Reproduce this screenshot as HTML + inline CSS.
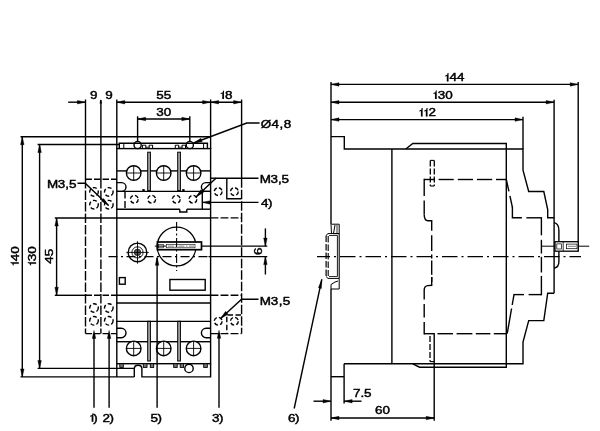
<!DOCTYPE html>
<html><head><meta charset="utf-8"><title>Dimension drawing</title>
<style>
html,body{margin:0;padding:0;background:#fff;}
body{width:600px;height:431px;overflow:hidden;font-family:"Liberation Sans",sans-serif;}
svg{display:block;will-change:transform;opacity:0.999;}
text{font-family:"Liberation Sans",sans-serif;}
</style></head><body>
<svg width="600" height="431" viewBox="0 0 600 431">
<rect x="0" y="0" width="600" height="431" fill="#fff"/>
<line x1="68.2" y1="102.2" x2="85.4" y2="102.2" stroke="#000" stroke-width="1.4" stroke-linecap="butt"/>
<polygon points="85.40,102.20 77.40,103.95 77.40,100.45" fill="#000" stroke="#000" stroke-width="0.4"/>
<line x1="116.8" y1="102.2" x2="241.6" y2="102.2" stroke="#000" stroke-width="1.4" stroke-linecap="butt"/>
<polygon points="116.80,102.20 124.80,100.45 124.80,103.95" fill="#000" stroke="#000" stroke-width="0.4"/>
<polygon points="210.60,102.20 202.60,103.95 202.60,100.45" fill="#000" stroke="#000" stroke-width="0.4"/>
<polygon points="210.60,102.20 218.60,100.45 218.60,103.95" fill="#000" stroke="#000" stroke-width="0.4"/>
<polygon points="241.60,102.20 233.60,103.95 233.60,100.45" fill="#000" stroke="#000" stroke-width="0.4"/>
<polygon points="100.80,99.80 101.80,103.30 99.80,103.30" fill="#000" stroke="#000" stroke-width="0.4"/>
<line x1="85.5" y1="99.5" x2="85.5" y2="179" stroke="#000" stroke-width="1.4" stroke-linecap="butt"/>
<line x1="100.9" y1="100" x2="100.9" y2="179" stroke="#000" stroke-width="1.4" stroke-linecap="butt"/>
<line x1="116.8" y1="99.5" x2="116.8" y2="149" stroke="#000" stroke-width="1.4" stroke-linecap="butt"/>
<line x1="210.6" y1="99.5" x2="210.6" y2="149" stroke="#000" stroke-width="1.4" stroke-linecap="butt"/>
<line x1="241.6" y1="99.5" x2="241.6" y2="178.2" stroke="#000" stroke-width="1.4" stroke-linecap="butt"/>
<line x1="137.6" y1="119" x2="189.8" y2="119" stroke="#000" stroke-width="1.4" stroke-linecap="butt"/>
<polygon points="137.60,119.00 145.60,117.25 145.60,120.75" fill="#000" stroke="#000" stroke-width="0.4"/>
<polygon points="189.80,119.00 181.80,120.75 181.80,117.25" fill="#000" stroke="#000" stroke-width="0.4"/>
<line x1="137.6" y1="116.3" x2="137.6" y2="141.4" stroke="#000" stroke-width="1.4" stroke-linecap="butt"/>
<line x1="189.8" y1="116.3" x2="189.8" y2="141.4" stroke="#000" stroke-width="1.4" stroke-linecap="butt"/>
<g transform="translate(93.8,99)" fill="#000" stroke="#000" stroke-width="0.45" font-size="11.5">
<text transform="translate(0.00,0) scale(1.17,1)" text-anchor="middle">9</text>
</g>
<g transform="translate(109,99)" fill="#000" stroke="#000" stroke-width="0.45" font-size="11.5">
<text transform="translate(0.00,0) scale(1.17,1)" text-anchor="middle">9</text>
</g>
<g transform="translate(163.8,99)" fill="#000" stroke="#000" stroke-width="0.45" font-size="11.5">
<text transform="translate(-3.75,0) scale(1.17,1)" text-anchor="middle">5</text>
<text transform="translate(3.75,0) scale(1.17,1)" text-anchor="middle">5</text>
</g>
<g transform="translate(163.8,116)" fill="#000" stroke="#000" stroke-width="0.45" font-size="11.5">
<text transform="translate(-3.75,0) scale(1.17,1)" text-anchor="middle">3</text>
<text transform="translate(3.75,0) scale(1.17,1)" text-anchor="middle">0</text>
</g>
<g transform="translate(226.2,99)" fill="#000" stroke="#000" stroke-width="0.45" font-size="11.5">
<path d="M-5.40,-5.9 L-3.50,-6.6 L-3.10,-8.3 L-2.25,-8.3 L-2.25,0 L-3.90,0 L-3.90,-5.4 L-5.40,-4.9 Z" stroke-width="0.1"/>
<text transform="translate(2.45,0) scale(1.17,1)" text-anchor="middle">8</text>
</g>
<line x1="22.3" y1="136.7" x2="22.3" y2="376.9" stroke="#000" stroke-width="1.4" stroke-linecap="butt"/>
<polygon points="22.30,136.70 24.05,144.70 20.55,144.70" fill="#000" stroke="#000" stroke-width="0.4"/>
<polygon points="22.30,376.90 20.55,368.90 24.05,368.90" fill="#000" stroke="#000" stroke-width="0.4"/>
<line x1="39.6" y1="144.5" x2="39.6" y2="368.4" stroke="#000" stroke-width="1.4" stroke-linecap="butt"/>
<polygon points="39.60,144.50 41.35,152.50 37.85,152.50" fill="#000" stroke="#000" stroke-width="0.4"/>
<polygon points="39.60,368.40 37.85,360.40 41.35,360.40" fill="#000" stroke="#000" stroke-width="0.4"/>
<line x1="56.6" y1="218" x2="56.6" y2="295.3" stroke="#000" stroke-width="1.4" stroke-linecap="butt"/>
<polygon points="56.60,218.00 58.35,226.00 54.85,226.00" fill="#000" stroke="#000" stroke-width="0.4"/>
<polygon points="56.60,295.30 54.85,287.30 58.35,287.30" fill="#000" stroke="#000" stroke-width="0.4"/>
<line x1="20.5" y1="136.7" x2="210.6" y2="136.7" stroke="#000" stroke-width="1.4" stroke-linecap="butt"/>
<line x1="37.6" y1="144.5" x2="119.3" y2="144.5" stroke="#000" stroke-width="1.4" stroke-linecap="butt"/>
<line x1="54.8" y1="218" x2="116.8" y2="218" stroke="#000" stroke-width="1.4" stroke-linecap="butt"/>
<line x1="54.8" y1="295.3" x2="85.5" y2="295.3" stroke="#000" stroke-width="1.4" stroke-linecap="butt"/>
<line x1="37.6" y1="368.4" x2="134.3" y2="368.4" stroke="#000" stroke-width="1.4" stroke-linecap="butt"/>
<line x1="20.5" y1="376.9" x2="134.3" y2="376.9" stroke="#000" stroke-width="1.4" stroke-linecap="butt"/>
<g transform="translate(18.8,256.2) rotate(-90)" fill="#000" stroke="#000" stroke-width="0.45" font-size="11.5">
<path d="M-9.15,-5.9 L-7.25,-6.6 L-6.85,-8.3 L-6.00,-8.3 L-6.00,0 L-7.65,0 L-7.65,-5.4 L-9.15,-4.9 Z" stroke-width="0.1"/>
<text transform="translate(-1.30,0) scale(1.17,1)" text-anchor="middle">4</text>
<text transform="translate(6.20,0) scale(1.17,1)" text-anchor="middle">0</text>
</g>
<g transform="translate(36.1,256.2) rotate(-90)" fill="#000" stroke="#000" stroke-width="0.45" font-size="11.5">
<path d="M-9.15,-5.9 L-7.25,-6.6 L-6.85,-8.3 L-6.00,-8.3 L-6.00,0 L-7.65,0 L-7.65,-5.4 L-9.15,-4.9 Z" stroke-width="0.1"/>
<text transform="translate(-1.30,0) scale(1.17,1)" text-anchor="middle">3</text>
<text transform="translate(6.20,0) scale(1.17,1)" text-anchor="middle">0</text>
</g>
<g transform="translate(53.1,256.3) rotate(-90)" fill="#000" stroke="#000" stroke-width="0.45" font-size="11.5">
<text transform="translate(-3.75,0) scale(1.17,1)" text-anchor="middle">4</text>
<text transform="translate(3.75,0) scale(1.17,1)" text-anchor="middle">5</text>
</g>
<polyline points="119.3,148.6 119.3,143.2 207.4,143.2 207.4,148.6" fill="none" stroke="#000" stroke-width="1.4" stroke-linejoin="miter"/>
<line x1="123.8" y1="143.2" x2="123.8" y2="148.6" stroke="#000" stroke-width="1.0" stroke-linecap="butt"/>
<line x1="203.6" y1="143.2" x2="203.6" y2="148.6" stroke="#000" stroke-width="1.0" stroke-linecap="butt"/>
<line x1="142.4" y1="145" x2="142.4" y2="148.6" stroke="#000" stroke-width="1.0" stroke-linecap="butt"/>
<line x1="145.8" y1="145" x2="145.8" y2="148.6" stroke="#000" stroke-width="1.0" stroke-linecap="butt"/>
<line x1="149.20000000000002" y1="145" x2="149.20000000000002" y2="148.6" stroke="#000" stroke-width="1.0" stroke-linecap="butt"/>
<line x1="152.6" y1="145" x2="152.6" y2="148.6" stroke="#000" stroke-width="1.0" stroke-linecap="butt"/>
<line x1="142.4" y1="145.2" x2="145.8" y2="145.2" stroke="#000" stroke-width="0.9" stroke-linecap="butt"/>
<line x1="149.20000000000002" y1="145.2" x2="152.6" y2="145.2" stroke="#000" stroke-width="0.9" stroke-linecap="butt"/>
<line x1="145.8" y1="147.2" x2="149.20000000000002" y2="147.2" stroke="#000" stroke-width="0.8" stroke-linecap="butt"/>
<line x1="175.3" y1="145" x2="175.3" y2="148.6" stroke="#000" stroke-width="1.0" stroke-linecap="butt"/>
<line x1="178.70000000000002" y1="145" x2="178.70000000000002" y2="148.6" stroke="#000" stroke-width="1.0" stroke-linecap="butt"/>
<line x1="182.10000000000002" y1="145" x2="182.10000000000002" y2="148.6" stroke="#000" stroke-width="1.0" stroke-linecap="butt"/>
<line x1="185.5" y1="145" x2="185.5" y2="148.6" stroke="#000" stroke-width="1.0" stroke-linecap="butt"/>
<line x1="175.3" y1="145.2" x2="178.70000000000002" y2="145.2" stroke="#000" stroke-width="0.9" stroke-linecap="butt"/>
<line x1="182.10000000000002" y1="145.2" x2="185.5" y2="145.2" stroke="#000" stroke-width="0.9" stroke-linecap="butt"/>
<line x1="178.70000000000002" y1="147.2" x2="182.10000000000002" y2="147.2" stroke="#000" stroke-width="0.8" stroke-linecap="butt"/>
<circle cx="137.6" cy="145" r="3.6" fill="none" stroke="#000" stroke-width="1.4"/>
<circle cx="189.8" cy="145" r="3.6" fill="none" stroke="#000" stroke-width="1.4"/>
<rect x="116.8" y="148.6" width="93.8" height="215.1" fill="none" stroke="#000" stroke-width="1.4"/>
<line x1="116.8" y1="170.9" x2="126.49999999999999" y2="170.9" stroke="#000" stroke-width="1.4" stroke-linecap="butt"/>
<line x1="140.89999999999998" y1="170.9" x2="156.5" y2="170.9" stroke="#000" stroke-width="1.4" stroke-linecap="butt"/>
<line x1="170.89999999999998" y1="170.9" x2="186.4" y2="170.9" stroke="#000" stroke-width="1.4" stroke-linecap="butt"/>
<line x1="200.79999999999998" y1="170.9" x2="210.6" y2="170.9" stroke="#000" stroke-width="1.4" stroke-linecap="butt"/>
<circle cx="133.7" cy="173" r="7.3" fill="none" stroke="#000" stroke-width="1.4"/>
<line x1="126.39999999999999" y1="173" x2="141.0" y2="173" stroke="#000" stroke-width="0.9" stroke-linecap="butt"/>
<line x1="133.7" y1="165.7" x2="133.7" y2="180.3" stroke="#000" stroke-width="0.9" stroke-linecap="butt"/>
<circle cx="163.7" cy="173" r="7.3" fill="none" stroke="#000" stroke-width="1.4"/>
<line x1="156.39999999999998" y1="173" x2="171.0" y2="173" stroke="#000" stroke-width="0.9" stroke-linecap="butt"/>
<line x1="163.7" y1="165.7" x2="163.7" y2="180.3" stroke="#000" stroke-width="0.9" stroke-linecap="butt"/>
<circle cx="193.6" cy="173" r="7.3" fill="none" stroke="#000" stroke-width="1.4"/>
<line x1="186.29999999999998" y1="173" x2="200.9" y2="173" stroke="#000" stroke-width="0.9" stroke-linecap="butt"/>
<line x1="193.6" y1="165.7" x2="193.6" y2="180.3" stroke="#000" stroke-width="0.9" stroke-linecap="butt"/>
<line x1="116.8" y1="341.7" x2="131.7" y2="341.7" stroke="#000" stroke-width="1.4" stroke-linecap="butt"/>
<line x1="135.7" y1="341.7" x2="161.7" y2="341.7" stroke="#000" stroke-width="1.4" stroke-linecap="butt"/>
<line x1="165.7" y1="341.7" x2="191.6" y2="341.7" stroke="#000" stroke-width="1.4" stroke-linecap="butt"/>
<line x1="195.6" y1="341.7" x2="210.6" y2="341.7" stroke="#000" stroke-width="1.4" stroke-linecap="butt"/>
<circle cx="133.7" cy="348.4" r="7.3" fill="none" stroke="#000" stroke-width="1.4"/>
<line x1="126.39999999999999" y1="348.4" x2="141.0" y2="348.4" stroke="#000" stroke-width="0.9" stroke-linecap="butt"/>
<line x1="133.7" y1="341.1" x2="133.7" y2="355.7" stroke="#000" stroke-width="0.9" stroke-linecap="butt"/>
<circle cx="163.7" cy="348.4" r="7.3" fill="none" stroke="#000" stroke-width="1.4"/>
<line x1="156.39999999999998" y1="348.4" x2="171.0" y2="348.4" stroke="#000" stroke-width="0.9" stroke-linecap="butt"/>
<line x1="163.7" y1="341.1" x2="163.7" y2="355.7" stroke="#000" stroke-width="0.9" stroke-linecap="butt"/>
<circle cx="193.6" cy="348.4" r="7.3" fill="none" stroke="#000" stroke-width="1.4"/>
<line x1="186.29999999999998" y1="348.4" x2="200.9" y2="348.4" stroke="#000" stroke-width="0.9" stroke-linecap="butt"/>
<line x1="193.6" y1="341.1" x2="193.6" y2="355.7" stroke="#000" stroke-width="0.9" stroke-linecap="butt"/>
<rect x="147.7" y="152.2" width="2.700000000000017" height="38.400000000000006" fill="#aaa" stroke="#000" stroke-width="1.0"/>
<rect x="147.7" y="321.3" width="2.700000000000017" height="39.69999999999999" fill="#aaa" stroke="#000" stroke-width="1.0"/>
<rect x="177.7" y="152.2" width="2.700000000000017" height="38.400000000000006" fill="#aaa" stroke="#000" stroke-width="1.0"/>
<rect x="177.7" y="321.3" width="2.700000000000017" height="39.69999999999999" fill="#aaa" stroke="#000" stroke-width="1.0"/>
<line x1="116.8" y1="191.4" x2="210.6" y2="191.4" stroke="#000" stroke-width="1.4" stroke-linecap="butt"/>
<line x1="116.8" y1="209.2" x2="179.8" y2="209.2" stroke="#000" stroke-width="1.4" stroke-linecap="butt"/>
<polyline points="179.8,209.2 179.8,212 186.8,212 186.8,209.2" fill="none" stroke="#000" stroke-width="1.4" stroke-linejoin="miter"/>
<line x1="186.8" y1="209.2" x2="210.6" y2="209.2" stroke="#000" stroke-width="1.4" stroke-linecap="butt"/>
<line x1="116.8" y1="218" x2="210.6" y2="218" stroke="#000" stroke-width="1.4" stroke-linecap="butt"/>
<line x1="116.8" y1="295.3" x2="210.6" y2="295.3" stroke="#000" stroke-width="1.4" stroke-linecap="butt"/>
<line x1="116.8" y1="303" x2="210.6" y2="303" stroke="#000" stroke-width="1.4" stroke-linecap="butt"/>
<line x1="116.8" y1="321.4" x2="210.6" y2="321.4" stroke="#000" stroke-width="1.4" stroke-linecap="butt"/>
<line x1="125" y1="191.4" x2="125" y2="209.2" stroke="#000" stroke-width="1.4" stroke-dasharray="7 2.5" stroke-linecap="butt"/>
<line x1="202.3" y1="191.4" x2="202.3" y2="209.2" stroke="#000" stroke-width="1.4" stroke-linecap="butt"/>
<circle cx="134.3" cy="199.2" r="3.9" fill="none" stroke="#000" stroke-width="1.4" stroke-dasharray="4 2.2"/>
<circle cx="151.7" cy="199.2" r="3.9" fill="none" stroke="#000" stroke-width="1.4" stroke-dasharray="4 2.2"/>
<circle cx="176.3" cy="199.2" r="3.9" fill="none" stroke="#000" stroke-width="1.4" stroke-dasharray="4 2.2"/>
<circle cx="192.9" cy="199.2" r="3.9" fill="none" stroke="#000" stroke-width="1.4" stroke-dasharray="4 2.2"/>
<rect x="142.6" y="189.2" width="2.0" height="2.0" fill="#000" stroke="#000" stroke-width="0.3"/>
<rect x="182.4" y="189.2" width="2.0" height="2.0" fill="#000" stroke="#000" stroke-width="0.3"/>
<path d="M116.8,182.6 L121.6,182.6 A4.400000000000006,4.400000000000006 0 0 1 121.6,191.4 L116.8,191.4" fill="none" stroke="#000" stroke-width="1.4"/>
<path d="M210.6,182.6 L205.8,182.6 A4.400000000000006,4.400000000000006 0 0 0 205.8,191.4 L210.6,191.4" fill="none" stroke="#000" stroke-width="1.4"/>
<path d="M116.8,328.3 L121.30000000000001,328.3 A4.699999999999989,4.699999999999989 0 0 1 121.30000000000001,337.7 L116.8,337.7" fill="none" stroke="#000" stroke-width="1.4"/>
<path d="M210.6,328.3 L206.1,328.3 A4.699999999999989,4.699999999999989 0 0 0 206.1,337.7 L210.6,337.7" fill="none" stroke="#000" stroke-width="1.4"/>
<circle cx="176.6" cy="246.5" r="19.4" fill="none" stroke="#000" stroke-width="1.3"/>
<rect x="157.4" y="242" width="44.099999999999994" height="7.699999999999989" fill="#fff" stroke="#000" stroke-width="1.7"/>
<rect x="158.5" y="244.5" width="4.800000000000011" height="3.3000000000000114" fill="none" stroke="#000" stroke-width="0.6"/>
<rect x="166.3" y="244.5" width="28.69999999999999" height="3.3000000000000114" fill="none" stroke="#000" stroke-width="0.6"/>
<line x1="154.8" y1="246.1" x2="166" y2="246.1" stroke="#000" stroke-width="1.0" stroke-linecap="butt"/>
<line x1="168" y1="246.15" x2="194" y2="246.15" stroke="#000" stroke-width="0.5" stroke-dasharray="6 1.5 1.5 1.5" stroke-linecap="butt"/>
<line x1="201.6" y1="246.1" x2="267.3" y2="246.1" stroke="#000" stroke-width="1.4" stroke-linecap="butt"/>
<line x1="108.5" y1="256.6" x2="208.5" y2="256.6" stroke="#000" stroke-width="1.1" stroke-dasharray="9 3.5 2 3.5" stroke-linecap="butt"/>
<line x1="176.6" y1="222" x2="176.6" y2="271" stroke="#000" stroke-width="1.1" stroke-dasharray="9 2.5 2 2.5" stroke-linecap="butt"/>
<circle cx="137.5" cy="252.4" r="9.3" fill="none" stroke="#000" stroke-width="1.4"/>
<circle cx="137.5" cy="252.4" r="5.6" fill="none" stroke="#000" stroke-width="0.9"/>
<circle cx="137.5" cy="252.4" r="3.3" fill="#555" stroke="#000" stroke-width="0.6"/>
<line x1="126.3" y1="252.4" x2="148.8" y2="252.4" stroke="#000" stroke-width="0.9" stroke-linecap="butt"/>
<line x1="137.5" y1="241.2" x2="137.5" y2="263.7" stroke="#000" stroke-width="0.9" stroke-linecap="butt"/>
<rect x="119.4" y="277.6" width="5.799999999999997" height="6.599999999999966" fill="none" stroke="#000" stroke-width="1.4"/>
<rect x="169.9" y="279.5" width="35.29999999999998" height="10.699999999999989" fill="none" stroke="#000" stroke-width="1.4"/>
<line x1="208.5" y1="256.6" x2="267.3" y2="256.6" stroke="#000" stroke-width="1.4" stroke-linecap="butt"/>
<line x1="265.4" y1="228.4" x2="265.4" y2="246.1" stroke="#000" stroke-width="1.4" stroke-linecap="butt"/>
<polygon points="265.40,246.10 263.65,238.10 267.15,238.10" fill="#000" stroke="#000" stroke-width="0.4"/>
<line x1="265.4" y1="256.6" x2="265.4" y2="274.5" stroke="#000" stroke-width="1.4" stroke-linecap="butt"/>
<polygon points="265.40,256.60 267.15,264.60 263.65,264.60" fill="#000" stroke="#000" stroke-width="0.4"/>
<g transform="translate(262.3,251.3) rotate(-90)" fill="#000" stroke="#000" stroke-width="0.45" font-size="11.5">
<text transform="translate(0.00,0) scale(1.17,1)" text-anchor="middle">6</text>
</g>
<line x1="85.5" y1="179" x2="85.5" y2="333.6" stroke="#000" stroke-width="1.4" stroke-dasharray="9.5 2" stroke-linecap="butt"/>
<line x1="100.9" y1="179" x2="100.9" y2="333.6" stroke="#000" stroke-width="1.4" stroke-dasharray="9.5 2" stroke-linecap="butt"/>
<line x1="85.5" y1="179.3" x2="116.8" y2="179.3" stroke="#000" stroke-width="1.4" stroke-dasharray="6.5 2" stroke-linecap="butt"/>
<line x1="85.5" y1="295.3" x2="116.8" y2="295.3" stroke="#000" stroke-width="1.4" stroke-dasharray="6.5 2" stroke-linecap="butt"/>
<line x1="85.5" y1="333.6" x2="116.8" y2="333.6" stroke="#000" stroke-width="1.4" stroke-dasharray="6.5 2" stroke-linecap="butt"/>
<circle cx="94" cy="191.9" r="4.3" fill="none" stroke="#000" stroke-width="1.4" stroke-dasharray="4 2.2"/>
<circle cx="94" cy="204.7" r="4.3" fill="none" stroke="#000" stroke-width="1.4" stroke-dasharray="4 2.2"/>
<circle cx="94" cy="308" r="4.3" fill="none" stroke="#000" stroke-width="1.4" stroke-dasharray="4 2.2"/>
<circle cx="94" cy="320.8" r="4.3" fill="none" stroke="#000" stroke-width="1.4" stroke-dasharray="4 2.2"/>
<circle cx="108.8" cy="191.9" r="4.3" fill="none" stroke="#000" stroke-width="1.4" stroke-dasharray="4 2.2"/>
<circle cx="108.8" cy="204.7" r="4.3" fill="none" stroke="#000" stroke-width="1.4" stroke-dasharray="4 2.2"/>
<circle cx="108.8" cy="308" r="4.3" fill="none" stroke="#000" stroke-width="1.4" stroke-dasharray="4 2.2"/>
<circle cx="108.8" cy="320.8" r="4.3" fill="none" stroke="#000" stroke-width="1.4" stroke-dasharray="4 2.2"/>
<g transform="translate(48,188)" fill="#000" stroke="#000" stroke-width="0.45" font-size="11.5">
<text transform="translate(4.65,0) scale(1.17,1)" text-anchor="middle">M</text>
<text transform="translate(13.55,0) scale(1.17,1)" text-anchor="middle">3</text>
<text transform="translate(19.15,0) scale(1.17,1)" text-anchor="middle">,</text>
<text transform="translate(24.75,0) scale(1.17,1)" text-anchor="middle">5</text>
</g>
<polyline points="77.5,183.3 85.2,183.3 108.6,205.6" fill="none" stroke="#000" stroke-width="1.4" stroke-linejoin="miter"/>
<polygon points="108.60,205.60 101.27,200.97 103.62,198.51" fill="#000" stroke="#000" stroke-width="0.4"/>
<line x1="241.6" y1="178.2" x2="241.6" y2="333.6" stroke="#000" stroke-width="1.4" stroke-dasharray="9.5 2" stroke-linecap="butt"/>
<line x1="210.6" y1="217.9" x2="241.6" y2="217.9" stroke="#000" stroke-width="1.4" stroke-dasharray="7.8 2.2" stroke-linecap="butt"/>
<line x1="210.6" y1="295.2" x2="241.6" y2="295.2" stroke="#000" stroke-width="1.4" stroke-dasharray="7.8 2.2" stroke-linecap="butt"/>
<line x1="210.6" y1="333.6" x2="241.6" y2="333.6" stroke="#000" stroke-width="1.4" stroke-dasharray="7.8 2.2" stroke-linecap="butt"/>
<line x1="210.6" y1="178.2" x2="215.9" y2="178.2" stroke="#000" stroke-width="1.4" stroke-dasharray="5.5 2.5" stroke-linecap="butt"/>
<polyline points="226.8,178.2 226.8,198.8 241,198.8" fill="none" stroke="#000" stroke-width="1.4" stroke-linejoin="miter"/>
<circle cx="218.2" cy="191.6" r="3.9" fill="none" stroke="#000" stroke-width="1.4" stroke-dasharray="4 2.2"/>
<circle cx="218.2" cy="321.2" r="3.9" fill="none" stroke="#000" stroke-width="1.4" stroke-dasharray="4 2.2"/>
<circle cx="234.4" cy="191.6" r="3.9" fill="none" stroke="#000" stroke-width="1.4" stroke-dasharray="4 2.2"/>
<circle cx="234.4" cy="321.2" r="3.9" fill="none" stroke="#000" stroke-width="1.4" stroke-dasharray="4 2.2"/>
<polyline points="241,315 226.8,315 226.8,333.6" fill="none" stroke="#000" stroke-width="1.4" stroke-dasharray="5.5 2.5" stroke-linejoin="miter"/>
<polyline points="258.5,178.2 215.9,178.2 196,197" fill="none" stroke="#000" stroke-width="1.4" stroke-linejoin="miter"/>
<polygon points="196.00,197.00 200.87,189.78 203.48,192.54" fill="#000" stroke="#000" stroke-width="0.4"/>
<g transform="translate(260.6,182.6)" fill="#000" stroke="#000" stroke-width="0.45" font-size="11.5">
<text transform="translate(4.65,0) scale(1.17,1)" text-anchor="middle">M</text>
<text transform="translate(13.55,0) scale(1.17,1)" text-anchor="middle">3</text>
<text transform="translate(19.15,0) scale(1.17,1)" text-anchor="middle">,</text>
<text transform="translate(24.75,0) scale(1.17,1)" text-anchor="middle">5</text>
</g>
<line x1="258.5" y1="202.4" x2="202.4" y2="202.4" stroke="#000" stroke-width="1.4" stroke-linecap="butt"/>
<polygon points="202.40,202.40 210.40,200.65 210.40,204.15" fill="#000" stroke="#000" stroke-width="0.4"/>
<g transform="translate(262,207)" fill="#000" stroke="#000" stroke-width="0.45" font-size="11.5">
<text transform="translate(2.80,0) scale(1.17,1)" text-anchor="middle">4</text>
<text transform="translate(8.30,0) scale(1.17,1)" text-anchor="middle">)</text>
</g>
<polyline points="258.5,299.3 241.6,299.3 220.6,318.5" fill="none" stroke="#000" stroke-width="1.4" stroke-linejoin="miter"/>
<polygon points="220.60,318.50 225.60,311.37 228.16,314.17" fill="#000" stroke="#000" stroke-width="0.4"/>
<g transform="translate(260.6,304.6)" fill="#000" stroke="#000" stroke-width="0.45" font-size="11.5">
<text transform="translate(4.80,0) scale(1.17,1)" text-anchor="middle">M</text>
<text transform="translate(14.00,0) scale(1.17,1)" text-anchor="middle">3</text>
<text transform="translate(19.90,0) scale(1.17,1)" text-anchor="middle">,</text>
<text transform="translate(25.80,0) scale(1.17,1)" text-anchor="middle">5</text>
</g>
<polyline points="259.6,123 246.8,123 193.6,143" fill="none" stroke="#000" stroke-width="1.4" stroke-linejoin="miter"/>
<polygon points="193.60,143.00 200.92,138.32 202.19,141.69" fill="#000" stroke="#000" stroke-width="0.4"/>
<g transform="translate(261,127.6)" fill="#000" stroke="#000" stroke-width="0.45" font-size="11.5">
<text transform="translate(4.90,0) scale(1.17,1)" text-anchor="middle">&#216;</text>
<text transform="translate(14.30,0) scale(1.17,1)" text-anchor="middle">4</text>
<text transform="translate(20.40,0) scale(1.17,1)" text-anchor="middle">,</text>
<text transform="translate(26.50,0) scale(1.17,1)" text-anchor="middle">8</text>
</g>
<line x1="116.8" y1="363.7" x2="116.8" y2="376.9" stroke="#000" stroke-width="1.4" stroke-linecap="butt"/>
<path d="M134.3,376.9 L134.3,369 Q134.3,365.3 138,365.3 Q141.9,365.3 141.9,369 L141.9,376.9 L210.6,376.9 L210.6,363.7" fill="none" stroke="#000" stroke-width="1.4"/>
<rect x="119.8" y="363.7" width="3.5" height="3.6999999999999886" fill="#777" stroke="#000" stroke-width="0.9"/>
<rect x="143.3" y="363.7" width="3.6999999999999886" height="3.6999999999999886" fill="#777" stroke="#000" stroke-width="0.9"/>
<rect x="150.3" y="363.7" width="3.3999999999999773" height="3.6999999999999886" fill="#777" stroke="#000" stroke-width="0.9"/>
<rect x="173.7" y="363.7" width="3.5" height="3.6999999999999886" fill="#777" stroke="#000" stroke-width="0.9"/>
<rect x="180.2" y="363.7" width="3.4000000000000057" height="3.6999999999999886" fill="#777" stroke="#000" stroke-width="0.9"/>
<rect x="203.7" y="363.7" width="3.6000000000000227" height="3.6999999999999886" fill="#777" stroke="#000" stroke-width="0.9"/>
<circle cx="189" cy="368.4" r="4.2" fill="#fff" stroke="#000" stroke-width="1.4"/>
<line x1="94" y1="333.6" x2="94" y2="407.8" stroke="#000" stroke-width="1.4" stroke-linecap="butt"/>
<polygon points="94.00,330.50 95.75,338.50 92.25,338.50" fill="#000" stroke="#000" stroke-width="0.4"/>
<line x1="109.1" y1="333.6" x2="109.1" y2="407.8" stroke="#000" stroke-width="1.4" stroke-linecap="butt"/>
<polygon points="109.10,330.50 110.85,338.50 107.35,338.50" fill="#000" stroke="#000" stroke-width="0.4"/>
<line x1="157.1" y1="258" x2="157.1" y2="407.8" stroke="#000" stroke-width="1.4" stroke-linecap="butt"/>
<polygon points="157.10,256.80 158.85,265.30 155.35,265.30" fill="#000" stroke="#000" stroke-width="0.4"/>
<line x1="219" y1="333" x2="219" y2="407.8" stroke="#000" stroke-width="1.4" stroke-linecap="butt"/>
<polygon points="219.00,330.30 220.75,338.30 217.25,338.30" fill="#000" stroke="#000" stroke-width="0.4"/>
<g transform="translate(93.6,421.7)" fill="#000" stroke="#000" stroke-width="0.45" font-size="11.5">
<path d="M-3.40,-5.9 L-1.50,-6.6 L-1.10,-8.3 L-0.25,-8.3 L-0.25,0 L-1.90,0 L-1.90,-5.4 L-3.40,-4.9 Z" stroke-width="0.1"/>
<text transform="translate(2.00,0) scale(1.17,1)" text-anchor="middle">)</text>
</g>
<g transform="translate(108.4,421.7)" fill="#000" stroke="#000" stroke-width="0.45" font-size="11.5">
<text transform="translate(-2.20,0) scale(1.17,1)" text-anchor="middle">2</text>
<text transform="translate(3.30,0) scale(1.17,1)" text-anchor="middle">)</text>
</g>
<g transform="translate(156.4,421.7)" fill="#000" stroke="#000" stroke-width="0.45" font-size="11.5">
<text transform="translate(-2.20,0) scale(1.17,1)" text-anchor="middle">5</text>
<text transform="translate(3.30,0) scale(1.17,1)" text-anchor="middle">)</text>
</g>
<g transform="translate(218,421.7)" fill="#000" stroke="#000" stroke-width="0.45" font-size="11.5">
<text transform="translate(-2.20,0) scale(1.17,1)" text-anchor="middle">3</text>
<text transform="translate(3.30,0) scale(1.17,1)" text-anchor="middle">)</text>
</g>
<line x1="331" y1="84.4" x2="578.2" y2="84.4" stroke="#000" stroke-width="1.4" stroke-linecap="butt"/>
<polygon points="331.00,84.40 339.00,82.65 339.00,86.15" fill="#000" stroke="#000" stroke-width="0.4"/>
<polygon points="578.20,84.40 570.20,86.15 570.20,82.65" fill="#000" stroke="#000" stroke-width="0.4"/>
<line x1="331" y1="102.2" x2="554.1" y2="102.2" stroke="#000" stroke-width="1.4" stroke-linecap="butt"/>
<polygon points="331.00,102.20 339.00,100.45 339.00,103.95" fill="#000" stroke="#000" stroke-width="0.4"/>
<polygon points="554.10,102.20 546.10,103.95 546.10,100.45" fill="#000" stroke="#000" stroke-width="0.4"/>
<line x1="331" y1="119.6" x2="523" y2="119.6" stroke="#000" stroke-width="1.4" stroke-linecap="butt"/>
<polygon points="331.00,119.60 339.00,117.85 339.00,121.35" fill="#000" stroke="#000" stroke-width="0.4"/>
<polygon points="523.00,119.60 515.00,121.35 515.00,117.85" fill="#000" stroke="#000" stroke-width="0.4"/>
<g transform="translate(454.5,81.4)" fill="#000" stroke="#000" stroke-width="0.45" font-size="11.5">
<path d="M-9.15,-5.9 L-7.25,-6.6 L-6.85,-8.3 L-6.00,-8.3 L-6.00,0 L-7.65,0 L-7.65,-5.4 L-9.15,-4.9 Z" stroke-width="0.1"/>
<text transform="translate(-1.30,0) scale(1.17,1)" text-anchor="middle">4</text>
<text transform="translate(6.20,0) scale(1.17,1)" text-anchor="middle">4</text>
</g>
<g transform="translate(442.7,98.9)" fill="#000" stroke="#000" stroke-width="0.45" font-size="11.5">
<path d="M-9.15,-5.9 L-7.25,-6.6 L-6.85,-8.3 L-6.00,-8.3 L-6.00,0 L-7.65,0 L-7.65,-5.4 L-9.15,-4.9 Z" stroke-width="0.1"/>
<text transform="translate(-1.30,0) scale(1.17,1)" text-anchor="middle">3</text>
<text transform="translate(6.20,0) scale(1.17,1)" text-anchor="middle">0</text>
</g>
<g transform="translate(427.3,116.4)" fill="#000" stroke="#000" stroke-width="0.45" font-size="11.5">
<path d="M-7.85,-5.9 L-5.95,-6.6 L-5.55,-8.3 L-4.70,-8.3 L-4.70,0 L-6.35,0 L-6.35,-5.4 L-7.85,-4.9 Z" stroke-width="0.1"/>
<path d="M-2.95,-5.9 L-1.05,-6.6 L-0.65,-8.3 L0.20,-8.3 L0.20,0 L-1.45,0 L-1.45,-5.4 L-2.95,-4.9 Z" stroke-width="0.1"/>
<text transform="translate(4.90,0) scale(1.17,1)" text-anchor="middle">2</text>
</g>
<line x1="331" y1="82" x2="331" y2="224" stroke="#000" stroke-width="1.4" stroke-linecap="butt"/>
<line x1="578.2" y1="82" x2="578.2" y2="251.3" stroke="#000" stroke-width="1.4" stroke-linecap="butt"/>
<line x1="554.1" y1="99.8" x2="554.1" y2="293.2" stroke="#000" stroke-width="1.4" stroke-linecap="butt"/>
<polyline points="331,136.6 344.3,136.6 344.3,149 523,149 523,170.2 528.7,191.5 543.8,191.5 547.7,209.6 547.7,217.8 554.1,217.8" fill="none" stroke="#000" stroke-width="1.4" stroke-linejoin="miter"/>
<line x1="523" y1="116.8" x2="523" y2="149" stroke="#000" stroke-width="1.4" stroke-linecap="butt"/>
<polyline points="554.1,293.2 547.7,293.2 543.8,320.6 528.7,320.6 523,342 523,363.8 344.1,363.8" fill="none" stroke="#000" stroke-width="1.4" stroke-linejoin="miter"/>
<line x1="344.1" y1="363.8" x2="344.1" y2="403.5" stroke="#000" stroke-width="1.4" stroke-linecap="butt"/>
<line x1="331" y1="376.7" x2="344.1" y2="376.7" stroke="#000" stroke-width="1.4" stroke-linecap="butt"/>
<line x1="331" y1="289" x2="331" y2="420.8" stroke="#000" stroke-width="1.4" stroke-linecap="butt"/>
<line x1="391.9" y1="149" x2="391.9" y2="363.8" stroke="#000" stroke-width="1.4" stroke-linecap="butt"/>
<polyline points="405.8,149 412.8,143.5 506.3,143.5 506.3,367.2 419.6,367.2 412.8,363.8" fill="none" stroke="#000" stroke-width="1.4" stroke-linejoin="miter"/>
<path d="M554.1,222.6 Q558.9,223.6 558.9,230.5 L558.9,261.5 Q558.9,267.3 554.1,268.2" fill="none" stroke="#000" stroke-width="1.4"/>
<rect x="555" y="241.7" width="23.200000000000045" height="9.5" fill="#fff" stroke="#000" stroke-width="1.3"/>
<line x1="541" y1="246.2" x2="555" y2="246.2" stroke="#000" stroke-width="1.0" stroke-linecap="butt"/>
<line x1="578.2" y1="246.2" x2="589.2" y2="246.2" stroke="#000" stroke-width="1.0" stroke-linecap="butt"/>
<rect x="556.8" y="243.9" width="4.800000000000068" height="5.099999999999994" fill="none" stroke="#000" stroke-width="0.7"/>
<line x1="563.2" y1="242" x2="563.2" y2="251" stroke="#000" stroke-width="0.8" stroke-linecap="butt"/>
<rect x="566.6" y="244.1" width="10.399999999999977" height="4.599999999999994" fill="none" stroke="#000" stroke-width="0.7"/>
<line x1="568" y1="246.3" x2="576" y2="246.3" stroke="#000" stroke-width="0.5" stroke-linecap="butt"/>
<line x1="317" y1="256.6" x2="581" y2="256.6" stroke="#000" stroke-width="1.15" stroke-dasharray="15.5 4 2 4" stroke-dashoffset="2.5"/>
<line x1="424.2" y1="179.5" x2="434.8" y2="179.5" stroke="#000" stroke-width="1.4" stroke-linecap="butt"/>
<line x1="438.6" y1="179.5" x2="453.7" y2="179.5" stroke="#000" stroke-width="1.4" stroke-linecap="butt"/>
<line x1="457.8" y1="179.5" x2="473" y2="179.5" stroke="#000" stroke-width="1.4" stroke-linecap="butt"/>
<line x1="476.9" y1="179.5" x2="492.2" y2="179.5" stroke="#000" stroke-width="1.4" stroke-linecap="butt"/>
<line x1="496" y1="179.5" x2="506.3" y2="179.5" stroke="#000" stroke-width="1.4" stroke-linecap="butt"/>
<line x1="424.2" y1="178.8" x2="424.2" y2="195.9" stroke="#000" stroke-width="1.4" stroke-linecap="butt"/>
<line x1="424.2" y1="200.4" x2="424.2" y2="214.5" stroke="#000" stroke-width="1.4" stroke-linecap="butt"/>
<path d="M424.2,214.5 Q424.2,220.6 428,220.8 L431.7,220.8 L431.7,230.8" fill="none" stroke="#000" stroke-width="1.4"/>
<line x1="431.7" y1="235.3" x2="431.7" y2="251" stroke="#000" stroke-width="1.4" stroke-linecap="butt"/>
<line x1="431.7" y1="254.6" x2="431.7" y2="258.6" stroke="#000" stroke-width="1.4" stroke-linecap="butt"/>
<line x1="431.7" y1="260.6" x2="431.7" y2="274.8" stroke="#000" stroke-width="1.4" stroke-linecap="butt"/>
<line x1="431.7" y1="277" x2="431.7" y2="282" stroke="#000" stroke-width="1.4" stroke-linecap="butt"/>
<path d="M431.7,277 L431.7,285.3 L428,285.6 Q424.2,286 424.2,290 L424.2,299.5" fill="none" stroke="#000" stroke-width="1.4"/>
<line x1="424.2" y1="304" x2="424.2" y2="317.5" stroke="#000" stroke-width="1.4" stroke-linecap="butt"/>
<line x1="424.2" y1="322" x2="424.2" y2="334.4" stroke="#000" stroke-width="1.4" stroke-linecap="butt"/>
<line x1="424.2" y1="333.7" x2="434" y2="333.7" stroke="#000" stroke-width="1.4" stroke-linecap="butt"/>
<line x1="437.5" y1="333.7" x2="453" y2="333.7" stroke="#000" stroke-width="1.4" stroke-linecap="butt"/>
<line x1="456.6" y1="333.7" x2="472.4" y2="333.7" stroke="#000" stroke-width="1.4" stroke-linecap="butt"/>
<line x1="475.8" y1="333.7" x2="490.4" y2="333.7" stroke="#000" stroke-width="1.4" stroke-linecap="butt"/>
<line x1="493.8" y1="333.7" x2="506.3" y2="333.7" stroke="#000" stroke-width="1.4" stroke-linecap="butt"/>
<line x1="506.3" y1="179.5" x2="508.91" y2="191.4" stroke="#000" stroke-width="1.4" stroke-linecap="butt"/>
<line x1="509.9" y1="195.9" x2="512.4" y2="207.3" stroke="#000" stroke-width="1.4" stroke-linecap="butt"/>
<polyline points="512.4,206.5 512.4,217.8 521.9,217.8" fill="none" stroke="#000" stroke-width="1.4" stroke-linejoin="miter"/>
<line x1="526.4" y1="217.8" x2="541.4" y2="217.8" stroke="#000" stroke-width="1.4" stroke-linecap="butt"/>
<line x1="541.4" y1="217.1" x2="541.4" y2="235.3" stroke="#000" stroke-width="1.4" stroke-linecap="butt"/>
<line x1="541.4" y1="239.8" x2="541.4" y2="253.5" stroke="#000" stroke-width="1.4" stroke-linecap="butt"/>
<line x1="541.4" y1="256.8" x2="541.4" y2="272.5" stroke="#000" stroke-width="1.4" stroke-linecap="butt"/>
<line x1="541.4" y1="275.9" x2="541.4" y2="295.3" stroke="#000" stroke-width="1.4" stroke-linecap="butt"/>
<line x1="528.6" y1="294.6" x2="541.4" y2="294.6" stroke="#000" stroke-width="1.4" stroke-linecap="butt"/>
<line x1="513.4" y1="294.6" x2="524" y2="294.6" stroke="#000" stroke-width="1.4" stroke-linecap="butt"/>
<line x1="514.0" y1="294.6" x2="512.19" y2="305" stroke="#000" stroke-width="1.4" stroke-linecap="butt"/>
<line x1="511.58" y1="308.5" x2="507.2" y2="333.7" stroke="#000" stroke-width="1.4" stroke-linecap="butt"/>
<line x1="430.3" y1="160.4" x2="430.3" y2="186" stroke="#000" stroke-width="1.3" stroke-dasharray="6 2" stroke-linecap="butt"/>
<line x1="434.3" y1="160.4" x2="434.3" y2="186" stroke="#000" stroke-width="1.3" stroke-dasharray="6 2" stroke-linecap="butt"/>
<line x1="430.3" y1="160.4" x2="434.3" y2="160.4" stroke="#000" stroke-width="1.1" stroke-linecap="butt"/>
<line x1="430.3" y1="186" x2="434.3" y2="186" stroke="#000" stroke-width="1.1" stroke-linecap="butt"/>
<line x1="430" y1="336" x2="430" y2="361.6" stroke="#000" stroke-width="1.3" stroke-dasharray="6 2" stroke-linecap="butt"/>
<line x1="434.2" y1="333" x2="434.2" y2="420.8" stroke="#000" stroke-width="1.4" stroke-linecap="butt"/>
<line x1="430" y1="361.6" x2="434.2" y2="361.6" stroke="#000" stroke-width="1.1" stroke-linecap="butt"/>
<polyline points="331,224 331.5,233.6" fill="none" stroke="#000" stroke-width="1.0" stroke-linejoin="miter"/>
<polyline points="331.5,224.2 339.2,224.2 339.2,233.6 333.5,233.6 335,225" fill="none" stroke="#000" stroke-width="1.0" stroke-linejoin="miter"/>
<line x1="337" y1="225" x2="337" y2="233.6" stroke="#000" stroke-width="0.8" stroke-linecap="butt"/>
<polyline points="339.2,233.6 339.2,278.2" fill="none" stroke="#000" stroke-width="1.1" stroke-linejoin="miter"/>
<line x1="337.4" y1="235.5" x2="337.4" y2="276.5" stroke="#000" stroke-width="0.9" stroke-linecap="butt"/>
<polyline points="339.2,233.6 328,233.6 326,235.5" fill="none" stroke="#000" stroke-width="1.0" stroke-linejoin="miter"/>
<polyline points="337.4,235.5 329,235.5" fill="none" stroke="#000" stroke-width="0.8" stroke-linejoin="miter"/>
<line x1="326.1" y1="235.5" x2="326.1" y2="276.5" stroke="#000" stroke-width="1.2" stroke-dasharray="6.5 2" stroke-linecap="butt"/>
<line x1="328.2" y1="236" x2="328.2" y2="276" stroke="#000" stroke-width="1.1" stroke-dasharray="6.5 2" stroke-linecap="butt"/>
<polyline points="326,276.5 328,278.4 339.2,278.4" fill="none" stroke="#000" stroke-width="1.0" stroke-linejoin="miter"/>
<line x1="329" y1="276.5" x2="337.4" y2="276.5" stroke="#000" stroke-width="0.8" stroke-linecap="butt"/>
<polyline points="339.2,278.4 339.2,289 331,289 331,284.5 335,282 338,281" fill="none" stroke="#000" stroke-width="1.0" stroke-linejoin="miter"/>
<line x1="321.8" y1="279.3" x2="294.2" y2="408.5" stroke="#000" stroke-width="1.4" stroke-linecap="butt"/>
<polygon points="321.80,279.30 321.38,288.41 318.45,287.79" fill="#000" stroke="#000" stroke-width="0.4"/>
<g transform="translate(294,422)" fill="#000" stroke="#000" stroke-width="0.45" font-size="11.5">
<text transform="translate(-2.20,0) scale(1.17,1)" text-anchor="middle">6</text>
<text transform="translate(3.30,0) scale(1.17,1)" text-anchor="middle">)</text>
</g>
<line x1="313.5" y1="401.2" x2="331" y2="401.2" stroke="#000" stroke-width="1.4" stroke-linecap="butt"/>
<polygon points="331.00,401.20 323.00,402.95 323.00,399.45" fill="#000" stroke="#000" stroke-width="0.4"/>
<line x1="344.1" y1="401.2" x2="361.5" y2="401.2" stroke="#000" stroke-width="1.4" stroke-linecap="butt"/>
<polygon points="344.10,401.20 352.10,399.45 352.10,402.95" fill="#000" stroke="#000" stroke-width="0.4"/>
<g transform="translate(362.3,396.6)" fill="#000" stroke="#000" stroke-width="0.45" font-size="11.5">
<text transform="translate(-5.50,0) scale(1.17,1)" text-anchor="middle">7</text>
<text transform="translate(0.00,0) scale(1.17,1)" text-anchor="middle">.</text>
<text transform="translate(5.50,0) scale(1.17,1)" text-anchor="middle">5</text>
</g>
<line x1="331" y1="418" x2="434.2" y2="418" stroke="#000" stroke-width="1.4" stroke-linecap="butt"/>
<polygon points="331.00,418.00 339.00,416.25 339.00,419.75" fill="#000" stroke="#000" stroke-width="0.4"/>
<polygon points="434.20,418.00 426.20,419.75 426.20,416.25" fill="#000" stroke="#000" stroke-width="0.4"/>
<g transform="translate(382.5,414.4)" fill="#000" stroke="#000" stroke-width="0.45" font-size="11.5">
<text transform="translate(-3.75,0) scale(1.17,1)" text-anchor="middle">6</text>
<text transform="translate(3.75,0) scale(1.17,1)" text-anchor="middle">0</text>
</g>
</svg>
</body></html>
